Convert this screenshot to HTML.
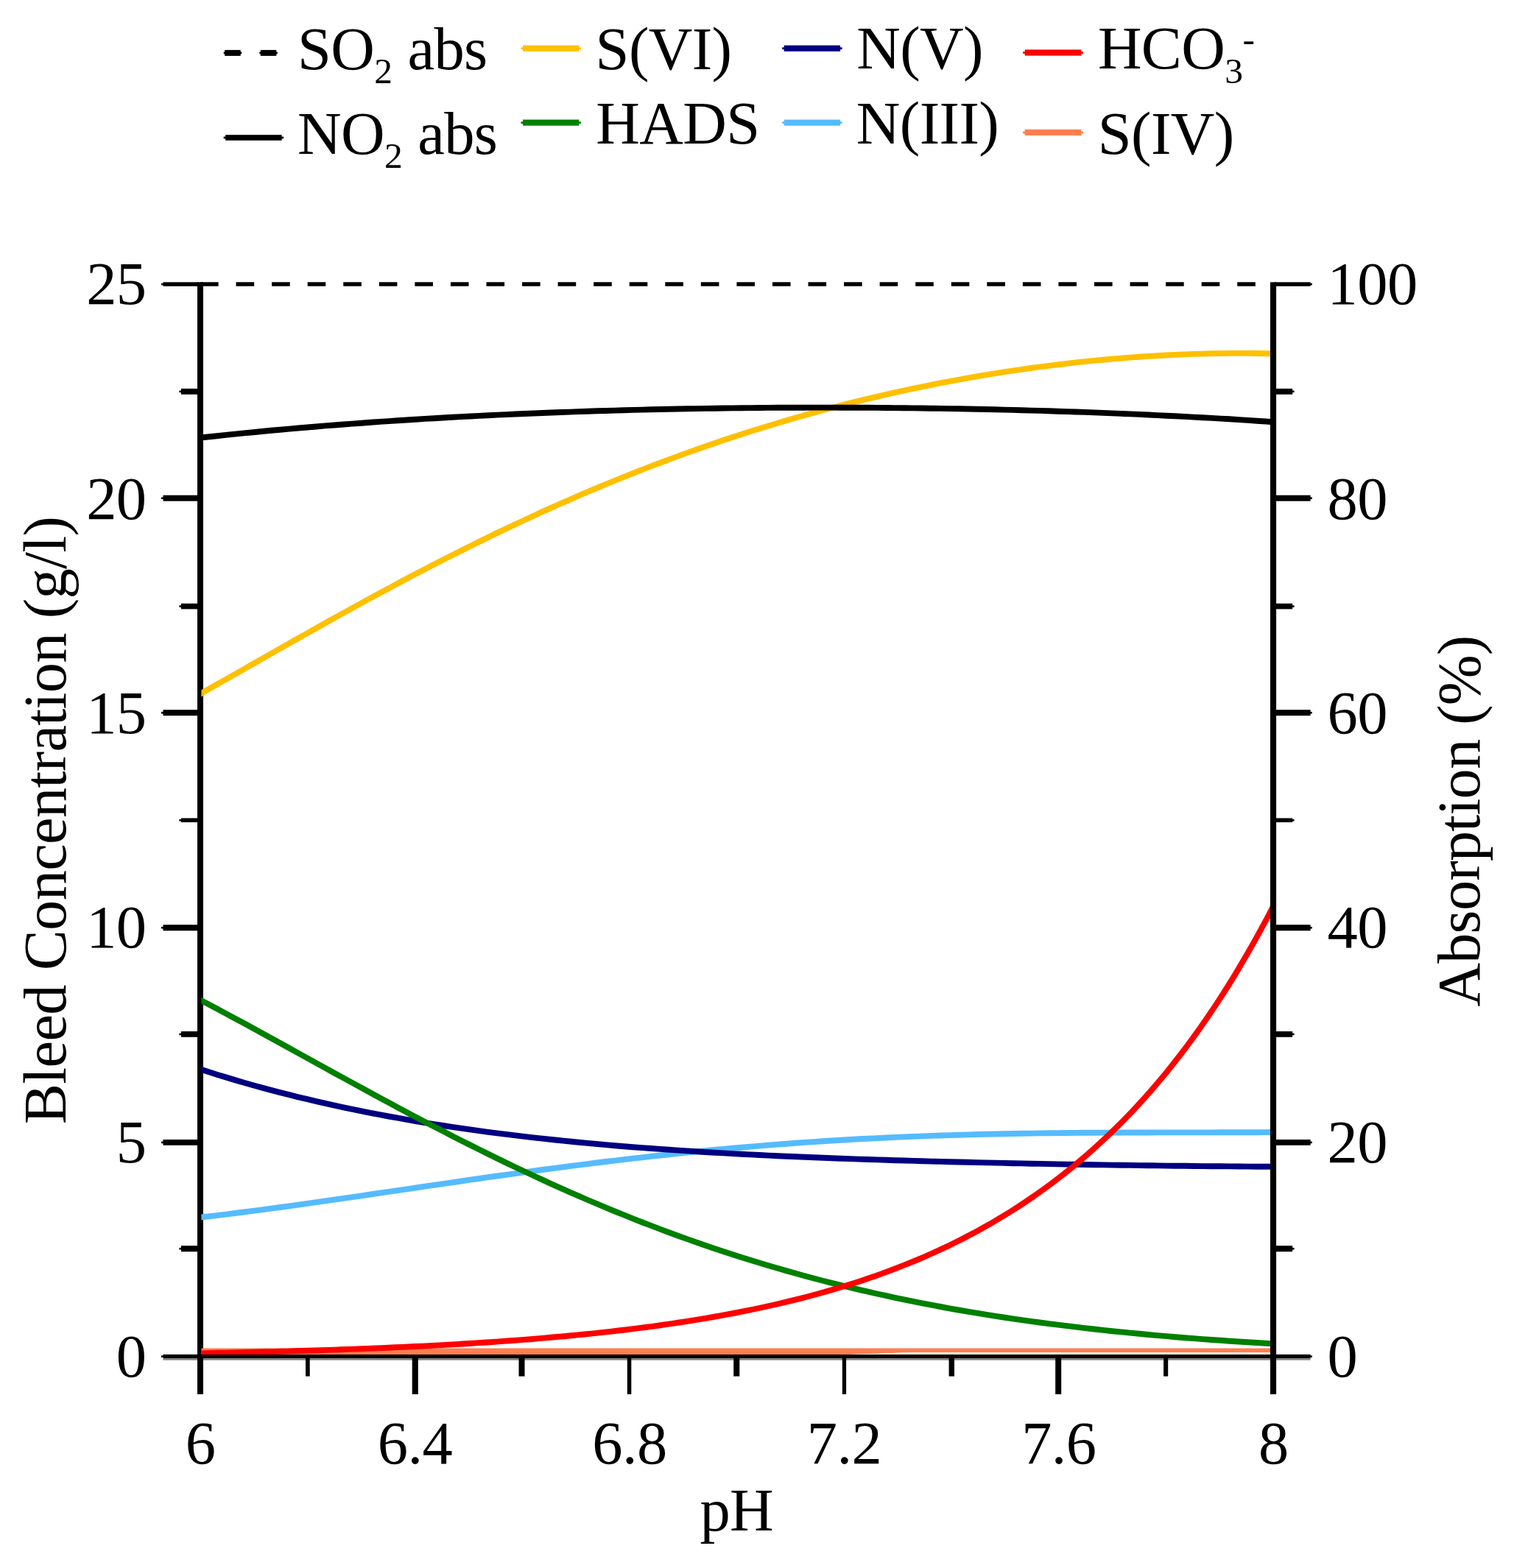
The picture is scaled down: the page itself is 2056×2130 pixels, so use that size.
<!DOCTYPE html>
<html lang="en"><head><meta charset="utf-8"><title>Bleed concentration and absorption vs pH</title>
<style>
html,body{margin:0;padding:0;background:#fff;}
body{width:2056px;height:2130px;overflow:hidden;}
svg{display:block;}
text{font-family:"Liberation Serif","DejaVu Serif",serif;font-size:82.5px;fill:#000;font-kerning:none;letter-spacing:-0.6px;}
.sub{font-size:49.5px;}
</style></head><body>
<svg xmlns="http://www.w3.org/2000/svg" width="2056" height="2130" viewBox="0 0 2056 2130">
<defs><clipPath id="plotclip"><rect x="273.4" y="380" width="1451.8" height="1460.1"/></clipPath></defs>
<rect width="2056" height="2130" fill="#fff"/>

<g id="axes-left-bottom">
<rect x="221.50" y="1839.90" width="1558.10" height="5.20" fill="#000"/>
<rect x="219.00" y="1841.30" width="1562.80" height="2.70" fill="#000"/>
<rect x="221.50" y="1845.10" width="1558.10" height="2.60" fill="#808080"/>
<rect x="268.00" y="383.30" width="8.00" height="1510.70" fill="#000"/>
<rect x="245.90" y="1692.20" width="24.10" height="8.10" fill="#000"/>
<rect x="243.40" y="1694.95" width="3.00" height="2.60" fill="#000"/>
<rect x="221.50" y="1548.00" width="48.50" height="7.80" fill="#000"/>
<rect x="219.00" y="1550.60" width="3.00" height="2.60" fill="#000"/>
<rect x="245.90" y="1401.00" width="24.10" height="7.80" fill="#000"/>
<rect x="243.40" y="1403.60" width="3.00" height="2.60" fill="#000"/>
<rect x="221.50" y="1256.20" width="48.50" height="8.10" fill="#000"/>
<rect x="219.00" y="1258.95" width="3.00" height="2.60" fill="#000"/>
<rect x="245.90" y="1111.40" width="24.10" height="5.60" fill="#000"/>
<rect x="243.40" y="1112.90" width="3.00" height="2.60" fill="#000"/>
<rect x="221.50" y="964.20" width="48.50" height="8.00" fill="#000"/>
<rect x="219.00" y="966.90" width="3.00" height="2.60" fill="#000"/>
<rect x="245.90" y="819.80" width="24.10" height="7.60" fill="#000"/>
<rect x="243.40" y="822.30" width="3.00" height="2.60" fill="#000"/>
<rect x="221.50" y="672.70" width="48.50" height="8.00" fill="#000"/>
<rect x="219.00" y="675.40" width="3.00" height="2.60" fill="#000"/>
<rect x="245.90" y="527.90" width="24.10" height="7.90" fill="#000"/>
<rect x="243.40" y="530.55" width="3.00" height="2.60" fill="#000"/>
<rect x="221.50" y="383.30" width="48.50" height="5.50" fill="#000"/>
<rect x="219.00" y="384.75" width="3.00" height="2.60" fill="#000"/>
<rect x="415.00" y="1843.00" width="5.70" height="26.60" fill="#000"/>
<rect x="559.70" y="1843.00" width="8.10" height="51.00" fill="#000"/>
<rect x="704.50" y="1843.00" width="8.00" height="26.60" fill="#000"/>
<rect x="851.80" y="1843.00" width="5.50" height="51.00" fill="#000"/>
<rect x="996.20" y="1843.00" width="8.10" height="26.60" fill="#000"/>
<rect x="1143.80" y="1843.00" width="5.30" height="51.00" fill="#000"/>
<rect x="1288.60" y="1843.00" width="7.40" height="26.60" fill="#000"/>
<rect x="1433.20" y="1843.00" width="8.00" height="51.00" fill="#000"/>
<rect x="1580.10" y="1843.00" width="6.10" height="26.60" fill="#000"/>
</g>
<g id="curves" fill="none" stroke-linejoin="round" clip-path="url(#plotclip)">
<path d="M270,1831.5 H1730 V1837.1 H1240 L1150,1840.1 H270 Z" fill="#FF7F50" stroke="none"/>
<path d="M1150,1840.1 L1240,1837.1 H1730 V1840.1 Z" fill="#FFEEE8" stroke="none"/>
<path d="M270.0,1653.9 L282.3,1652.5 L294.6,1651.1 L306.8,1649.6 L319.1,1648.0 L331.4,1646.5 L343.7,1644.9 L356.0,1643.3 L368.2,1641.6 L380.5,1640.0 L392.8,1638.3 L405.1,1636.6 L417.4,1634.9 L429.6,1633.1 L441.9,1631.4 L454.2,1629.6 L466.5,1627.9 L478.8,1626.1 L491.0,1624.3 L503.3,1622.5 L515.6,1620.7 L527.9,1618.9 L540.2,1617.1 L552.4,1615.3 L564.7,1613.5 L577.0,1611.7 L589.3,1609.9 L601.6,1608.1 L613.8,1606.3 L626.1,1604.5 L638.4,1602.7 L650.7,1601.0 L663.0,1599.2 L675.2,1597.5 L687.5,1595.8 L699.8,1594.1 L712.1,1592.4 L724.4,1590.7 L736.6,1589.0 L748.9,1587.4 L761.2,1585.8 L773.5,1584.2 L785.8,1582.6 L798.0,1581.1 L810.3,1579.5 L822.6,1578.0 L834.9,1576.6 L847.2,1575.1 L859.4,1573.7 L871.7,1572.3 L884.0,1570.9 L896.3,1569.5 L908.6,1568.2 L920.8,1566.9 L933.1,1565.6 L945.4,1564.4 L957.7,1563.2 L970.0,1562.0 L982.2,1560.9 L994.5,1559.8 L1006.8,1558.7 L1019.1,1557.6 L1031.3,1556.6 L1043.6,1555.6 L1055.9,1554.6 L1068.2,1553.7 L1080.5,1552.8 L1092.7,1551.9 L1105.0,1551.1 L1117.3,1550.3 L1129.6,1549.5 L1141.9,1548.7 L1154.1,1548.0 L1166.4,1547.3 L1178.7,1546.7 L1191.0,1546.1 L1203.3,1545.5 L1215.5,1544.9 L1227.8,1544.4 L1240.1,1543.9 L1252.4,1543.4 L1264.7,1542.9 L1276.9,1542.5 L1289.2,1542.1 L1301.5,1541.7 L1313.8,1541.4 L1326.1,1541.0 L1338.3,1540.7 L1350.6,1540.5 L1362.9,1540.2 L1375.2,1540.0 L1387.5,1539.8 L1399.7,1539.6 L1412.0,1539.4 L1424.3,1539.2 L1436.6,1539.1 L1448.9,1539.0 L1461.1,1538.9 L1473.4,1538.8 L1485.7,1538.7 L1498.0,1538.6 L1510.3,1538.6 L1522.5,1538.5 L1534.8,1538.5 L1547.1,1538.5 L1559.4,1538.5 L1571.7,1538.4 L1583.9,1538.4 L1596.2,1538.4 L1608.5,1538.4 L1620.8,1538.4 L1633.1,1538.4 L1645.3,1538.4 L1657.6,1538.3 L1669.9,1538.3 L1682.2,1538.3 L1694.5,1538.2 L1706.7,1538.2 L1719.0,1538.1 L1731.3,1538.0" stroke="#55BBFF" stroke-width="7.9"/>
<path d="M270.0,1451.8 L282.3,1455.8 L294.6,1459.7 L306.8,1463.4 L319.1,1467.1 L331.4,1470.7 L343.7,1474.2 L356.0,1477.6 L368.2,1480.9 L380.5,1484.1 L392.8,1487.2 L405.1,1490.3 L417.4,1493.2 L429.6,1496.1 L441.9,1498.9 L454.2,1501.7 L466.5,1504.3 L478.8,1506.9 L491.0,1509.4 L503.3,1511.8 L515.6,1514.2 L527.9,1516.5 L540.2,1518.7 L552.4,1520.9 L564.7,1523.0 L577.0,1525.1 L589.3,1527.1 L601.6,1529.0 L613.8,1530.8 L626.1,1532.7 L638.4,1534.4 L650.7,1536.1 L663.0,1537.8 L675.2,1539.4 L687.5,1540.9 L699.8,1542.4 L712.1,1543.9 L724.4,1545.3 L736.6,1546.7 L748.9,1548.0 L761.2,1549.3 L773.5,1550.5 L785.8,1551.7 L798.0,1552.9 L810.3,1554.0 L822.6,1555.1 L834.9,1556.2 L847.2,1557.2 L859.4,1558.2 L871.7,1559.1 L884.0,1560.0 L896.3,1560.9 L908.6,1561.8 L920.8,1562.6 L933.1,1563.4 L945.4,1564.2 L957.7,1565.0 L970.0,1565.7 L982.2,1566.4 L994.5,1567.1 L1006.8,1567.7 L1019.1,1568.4 L1031.3,1569.0 L1043.6,1569.6 L1055.9,1570.2 L1068.2,1570.7 L1080.5,1571.2 L1092.7,1571.8 L1105.0,1572.3 L1117.3,1572.8 L1129.6,1573.2 L1141.9,1573.7 L1154.1,1574.1 L1166.4,1574.6 L1178.7,1575.0 L1191.0,1575.4 L1203.3,1575.8 L1215.5,1576.2 L1227.8,1576.5 L1240.1,1576.9 L1252.4,1577.2 L1264.7,1577.6 L1276.9,1577.9 L1289.2,1578.2 L1301.5,1578.5 L1313.8,1578.8 L1326.1,1579.1 L1338.3,1579.4 L1350.6,1579.6 L1362.9,1579.9 L1375.2,1580.2 L1387.5,1580.4 L1399.7,1580.7 L1412.0,1580.9 L1424.3,1581.1 L1436.6,1581.4 L1448.9,1581.6 L1461.1,1581.8 L1473.4,1582.0 L1485.7,1582.2 L1498.0,1582.4 L1510.3,1582.6 L1522.5,1582.8 L1534.8,1582.9 L1547.1,1583.1 L1559.4,1583.3 L1571.7,1583.4 L1583.9,1583.6 L1596.2,1583.7 L1608.5,1583.8 L1620.8,1584.0 L1633.1,1584.1 L1645.3,1584.2 L1657.6,1584.3 L1669.9,1584.4 L1682.2,1584.5 L1694.5,1584.6 L1706.7,1584.7 L1719.0,1584.7 L1731.3,1584.8" stroke="#000080" stroke-width="7.9"/>
<path d="M270.0,943.8 L282.3,936.8 L294.6,929.8 L306.8,922.9 L319.1,915.9 L331.4,908.8 L343.7,901.8 L356.0,894.9 L368.2,887.9 L380.5,880.9 L392.8,873.9 L405.1,867.0 L417.4,860.1 L429.6,853.2 L441.9,846.3 L454.2,839.4 L466.5,832.6 L478.8,825.9 L491.0,819.1 L503.3,812.4 L515.6,805.8 L527.9,799.2 L540.2,792.6 L552.4,786.1 L564.7,779.6 L577.0,773.2 L589.3,766.8 L601.6,760.5 L613.8,754.3 L626.1,748.1 L638.4,742.0 L650.7,735.9 L663.0,729.9 L675.2,723.9 L687.5,718.1 L699.8,712.2 L712.1,706.5 L724.4,700.8 L736.6,695.2 L748.9,689.7 L761.2,684.2 L773.5,678.8 L785.8,673.4 L798.0,668.2 L810.3,663.0 L822.6,657.9 L834.9,652.8 L847.2,647.9 L859.4,643.0 L871.7,638.1 L884.0,633.4 L896.3,628.7 L908.6,624.1 L920.8,619.6 L933.1,615.1 L945.4,610.8 L957.7,606.5 L970.0,602.2 L982.2,598.1 L994.5,594.0 L1006.8,590.0 L1019.1,586.1 L1031.3,582.2 L1043.6,578.4 L1055.9,574.7 L1068.2,571.1 L1080.5,567.5 L1092.7,564.1 L1105.0,560.6 L1117.3,557.3 L1129.6,554.0 L1141.9,550.8 L1154.1,547.7 L1166.4,544.7 L1178.7,541.7 L1191.0,538.8 L1203.3,535.9 L1215.5,533.2 L1227.8,530.5 L1240.1,527.9 L1252.4,525.3 L1264.7,522.8 L1276.9,520.4 L1289.2,518.1 L1301.5,515.8 L1313.8,513.6 L1326.1,511.4 L1338.3,509.4 L1350.6,507.4 L1362.9,505.4 L1375.2,503.6 L1387.5,501.8 L1399.7,500.0 L1412.0,498.4 L1424.3,496.8 L1436.6,495.3 L1448.9,493.8 L1461.1,492.4 L1473.4,491.1 L1485.7,489.9 L1498.0,488.7 L1510.3,487.6 L1522.5,486.6 L1534.8,485.6 L1547.1,484.7 L1559.4,483.9 L1571.7,483.2 L1583.9,482.5 L1596.2,481.9 L1608.5,481.4 L1620.8,480.9 L1633.1,480.6 L1645.3,480.3 L1657.6,480.1 L1669.9,479.9 L1682.2,479.9 L1694.5,479.9 L1706.7,480.0 L1719.0,480.2 L1731.3,480.5" stroke="#FFC000" stroke-width="7.9"/>
<path d="M270.0,1357.3 L282.3,1363.8 L294.6,1370.3 L306.8,1376.9 L319.1,1383.5 L331.4,1390.1 L343.7,1396.8 L356.0,1403.5 L368.2,1410.3 L380.5,1417.0 L392.8,1423.8 L405.1,1430.6 L417.4,1437.4 L429.6,1444.1 L441.9,1450.9 L454.2,1457.7 L466.5,1464.4 L478.8,1471.1 L491.0,1477.8 L503.3,1484.5 L515.6,1491.2 L527.9,1497.8 L540.2,1504.4 L552.4,1510.9 L564.7,1517.4 L577.0,1523.9 L589.3,1530.3 L601.6,1536.6 L613.8,1542.9 L626.1,1549.2 L638.4,1555.4 L650.7,1561.5 L663.0,1567.6 L675.2,1573.6 L687.5,1579.6 L699.8,1585.5 L712.1,1591.3 L724.4,1597.0 L736.6,1602.7 L748.9,1608.3 L761.2,1613.9 L773.5,1619.3 L785.8,1624.7 L798.0,1630.0 L810.3,1635.2 L822.6,1640.4 L834.9,1645.5 L847.2,1650.4 L859.4,1655.4 L871.7,1660.2 L884.0,1664.9 L896.3,1669.6 L908.6,1674.2 L920.8,1678.7 L933.1,1683.1 L945.4,1687.4 L957.7,1691.7 L970.0,1695.9 L982.2,1700.0 L994.5,1704.0 L1006.8,1707.9 L1019.1,1711.8 L1031.3,1715.5 L1043.6,1719.2 L1055.9,1722.8 L1068.2,1726.4 L1080.5,1729.8 L1092.7,1733.2 L1105.0,1736.5 L1117.3,1739.7 L1129.6,1742.9 L1141.9,1745.9 L1154.1,1748.9 L1166.4,1751.9 L1178.7,1754.7 L1191.0,1757.5 L1203.3,1760.2 L1215.5,1762.8 L1227.8,1765.4 L1240.1,1767.9 L1252.4,1770.4 L1264.7,1772.7 L1276.9,1775.0 L1289.2,1777.3 L1301.5,1779.5 L1313.8,1781.6 L1326.1,1783.6 L1338.3,1785.6 L1350.6,1787.6 L1362.9,1789.5 L1375.2,1791.3 L1387.5,1793.1 L1399.7,1794.8 L1412.0,1796.5 L1424.3,1798.1 L1436.6,1799.7 L1448.9,1801.2 L1461.1,1802.7 L1473.4,1804.1 L1485.7,1805.5 L1498.0,1806.9 L1510.3,1808.2 L1522.5,1809.4 L1534.8,1810.6 L1547.1,1811.8 L1559.4,1813.0 L1571.7,1814.1 L1583.9,1815.1 L1596.2,1816.2 L1608.5,1817.2 L1620.8,1818.1 L1633.1,1819.1 L1645.3,1820.0 L1657.6,1820.8 L1669.9,1821.7 L1682.2,1822.5 L1694.5,1823.3 L1706.7,1824.0 L1719.0,1824.7 L1731.3,1825.4" stroke="#008000" stroke-width="7.9"/>
<path d="M270.0,1838.4 L279.2,1838.2 L288.4,1838.0 L297.6,1837.8 L306.8,1837.6 L316.0,1837.4 L325.1,1837.2 L334.3,1837.0 L343.5,1836.8 L352.7,1836.5 L361.9,1836.3 L371.1,1836.1 L380.3,1835.8 L389.5,1835.6 L398.7,1835.3 L407.9,1835.0 L417.0,1834.8 L426.2,1834.5 L435.4,1834.2 L444.6,1833.9 L453.8,1833.6 L463.0,1833.2 L472.2,1832.9 L481.4,1832.6 L490.6,1832.2 L499.8,1831.9 L509.0,1831.5 L518.1,1831.1 L527.3,1830.7 L536.5,1830.3 L545.7,1829.9 L554.9,1829.5 L564.1,1829.0 L573.3,1828.6 L582.5,1828.1 L591.7,1827.6 L600.9,1827.1 L610.1,1826.6 L619.2,1826.1 L628.4,1825.5 L637.6,1825.0 L646.8,1824.4 L656.0,1823.8 L665.2,1823.2 L674.4,1822.6 L683.6,1821.9 L692.8,1821.3 L702.0,1820.6 L711.1,1819.9 L720.3,1819.2 L729.5,1818.4 L738.7,1817.6 L747.9,1816.8 L757.1,1816.0 L766.3,1815.2 L775.5,1814.3 L784.7,1813.4 L793.9,1812.5 L803.1,1811.6 L812.2,1810.6 L821.4,1809.6 L830.6,1808.6 L839.8,1807.5 L849.0,1806.5 L858.2,1805.3 L867.4,1804.2 L876.6,1803.0 L885.8,1801.8 L895.0,1800.5 L904.1,1799.2 L913.3,1797.9 L922.5,1796.5 L931.7,1795.1 L940.9,1793.6 L950.1,1792.2 L959.3,1790.6 L968.5,1789.0 L977.7,1787.4 L986.9,1785.7 L996.1,1784.0 L1005.2,1782.2 L1014.4,1780.4 L1023.6,1778.5 L1032.8,1776.5 L1042.0,1774.5 L1051.2,1772.5 L1060.4,1770.3 L1069.6,1768.2 L1078.8,1765.9 L1088.0,1763.6 L1097.2,1761.2 L1106.3,1758.8 L1115.5,1756.2 L1124.7,1753.6 L1133.9,1751.0 L1143.1,1748.2 L1152.3,1745.4 L1161.5,1742.4 L1170.7,1739.4 L1179.9,1736.3 L1189.1,1733.2 L1198.2,1729.9 L1207.4,1726.5 L1216.6,1723.0 L1225.8,1719.4 L1235.0,1715.8 L1244.2,1712.0 L1253.4,1708.1 L1262.6,1704.0 L1271.8,1699.9 L1281.0,1695.6 L1290.2,1691.3 L1299.3,1686.7 L1308.5,1682.1 L1317.7,1677.3 L1326.9,1672.4 L1336.1,1667.3 L1345.3,1662.1 L1354.5,1656.7 L1363.7,1651.2 L1372.9,1645.5 L1382.1,1639.6 L1391.2,1633.6 L1400.4,1627.4 L1409.6,1621.0 L1418.8,1614.4 L1428.0,1607.6 L1437.2,1600.6 L1446.4,1593.4 L1455.6,1586.1 L1464.8,1578.4 L1474.0,1570.6 L1483.2,1562.5 L1492.3,1554.2 L1501.5,1545.7 L1510.7,1536.9 L1519.9,1527.8 L1529.1,1518.5 L1538.3,1508.9 L1547.5,1499.0 L1556.7,1488.8 L1565.9,1478.3 L1575.1,1467.5 L1584.3,1456.4 L1593.4,1445.0 L1602.6,1433.2 L1611.8,1421.1 L1621.0,1408.6 L1630.2,1395.8 L1639.4,1382.5 L1648.6,1368.9 L1657.8,1354.9 L1667.0,1340.5 L1676.2,1325.6 L1685.3,1310.3 L1694.5,1294.6 L1703.7,1278.4 L1712.9,1261.7 L1722.1,1244.5 L1731.3,1226.9" stroke="#FF0000" stroke-width="7.9"/>
<path d="M270.0,594.9 L282.3,593.5 L294.6,592.2 L306.8,590.9 L319.1,589.6 L331.4,588.4 L343.7,587.2 L356.0,586.0 L368.2,584.8 L380.5,583.7 L392.8,582.6 L405.1,581.5 L417.4,580.5 L429.6,579.5 L441.9,578.4 L454.2,577.5 L466.5,576.5 L478.8,575.6 L491.0,574.7 L503.3,573.8 L515.6,572.9 L527.9,572.1 L540.2,571.3 L552.4,570.5 L564.7,569.7 L577.0,568.9 L589.3,568.2 L601.6,567.5 L613.8,566.8 L626.1,566.1 L638.4,565.5 L650.7,564.9 L663.0,564.2 L675.2,563.6 L687.5,563.1 L699.8,562.5 L712.1,562.0 L724.4,561.5 L736.6,561.0 L748.9,560.5 L761.2,560.0 L773.5,559.6 L785.8,559.1 L798.0,558.7 L810.3,558.3 L822.6,558.0 L834.9,557.6 L847.2,557.3 L859.4,556.9 L871.7,556.6 L884.0,556.3 L896.3,556.0 L908.6,555.8 L920.8,555.5 L933.1,555.3 L945.4,555.1 L957.7,554.9 L970.0,554.7 L982.2,554.5 L994.5,554.4 L1006.8,554.2 L1019.1,554.1 L1031.3,554.0 L1043.6,553.9 L1055.9,553.8 L1068.2,553.7 L1080.5,553.7 L1092.7,553.7 L1105.0,553.6 L1117.3,553.6 L1129.6,553.6 L1141.9,553.7 L1154.1,553.7 L1166.4,553.7 L1178.7,553.8 L1191.0,553.9 L1203.3,554.0 L1215.5,554.1 L1227.8,554.2 L1240.1,554.4 L1252.4,554.5 L1264.7,554.7 L1276.9,554.9 L1289.2,555.1 L1301.5,555.3 L1313.8,555.5 L1326.1,555.8 L1338.3,556.0 L1350.6,556.3 L1362.9,556.6 L1375.2,556.9 L1387.5,557.2 L1399.7,557.6 L1412.0,557.9 L1424.3,558.3 L1436.6,558.7 L1448.9,559.1 L1461.1,559.5 L1473.4,559.9 L1485.7,560.4 L1498.0,560.9 L1510.3,561.4 L1522.5,561.9 L1534.8,562.4 L1547.1,562.9 L1559.4,563.5 L1571.7,564.1 L1583.9,564.7 L1596.2,565.3 L1608.5,565.9 L1620.8,566.6 L1633.1,567.2 L1645.3,567.9 L1657.6,568.6 L1669.9,569.3 L1682.2,570.1 L1694.5,570.9 L1706.7,571.7 L1719.0,572.5 L1731.3,573.3" stroke="#000000" stroke-width="7.9"/>
</g>
<path d="M272,386.05 H1725" stroke="#000" stroke-width="5.5" stroke-dasharray="24.6 23.96" fill="none"/>
<g id="axis-right">
<rect x="1725.00" y="383.30" width="8.10" height="1510.70" fill="#000"/>
<rect x="1731.00" y="1692.20" width="24.20" height="8.10" fill="#000"/>
<rect x="1755.00" y="1694.95" width="2.60" height="2.60" fill="#000"/>
<rect x="1731.00" y="1548.00" width="48.60" height="7.80" fill="#000"/>
<rect x="1779.00" y="1550.60" width="2.80" height="2.60" fill="#000"/>
<rect x="1731.00" y="1401.00" width="24.20" height="7.80" fill="#000"/>
<rect x="1755.00" y="1403.60" width="2.60" height="2.60" fill="#000"/>
<rect x="1731.00" y="1256.20" width="48.60" height="8.10" fill="#000"/>
<rect x="1779.00" y="1258.95" width="2.80" height="2.60" fill="#000"/>
<rect x="1731.00" y="1111.40" width="24.20" height="5.60" fill="#000"/>
<rect x="1755.00" y="1112.90" width="2.60" height="2.60" fill="#000"/>
<rect x="1731.00" y="964.20" width="48.60" height="8.00" fill="#000"/>
<rect x="1779.00" y="966.90" width="2.80" height="2.60" fill="#000"/>
<rect x="1731.00" y="819.80" width="24.20" height="7.60" fill="#000"/>
<rect x="1755.00" y="822.30" width="2.60" height="2.60" fill="#000"/>
<rect x="1731.00" y="672.70" width="48.60" height="8.00" fill="#000"/>
<rect x="1779.00" y="675.40" width="2.80" height="2.60" fill="#000"/>
<rect x="1731.00" y="527.90" width="24.20" height="7.90" fill="#000"/>
<rect x="1755.00" y="530.55" width="2.60" height="2.60" fill="#000"/>
<rect x="1731.00" y="383.30" width="48.60" height="5.50" fill="#000"/>
<rect x="1779.00" y="384.75" width="2.80" height="2.60" fill="#000"/>
</g>
<g id="ticklabels">
<text x="198.5" y="1870.1" text-anchor="end">0</text>
<text x="198.5" y="1578.7" text-anchor="end">5</text>
<text x="198.5" y="1287.3" text-anchor="end">10</text>
<text x="198.5" y="995.9" text-anchor="end">15</text>
<text x="198.5" y="704.5" text-anchor="end">20</text>
<text x="198.5" y="413.1" text-anchor="end">25</text>
<text x="1802.6" y="1870.1" text-anchor="start">0</text>
<text x="1802.6" y="1578.7" text-anchor="start">20</text>
<text x="1802.6" y="1287.3" text-anchor="start">40</text>
<text x="1802.6" y="995.9" text-anchor="start">60</text>
<text x="1802.6" y="704.5" text-anchor="start">80</text>
<text x="1802.6" y="413.1" text-anchor="start">100</text>
<text x="272.0" y="1988.3" text-anchor="middle">6</text>
<text x="563.5" y="1988.3" text-anchor="middle">6.4</text>
<text x="854.9" y="1988.3" text-anchor="middle">6.8</text>
<text x="1146.4" y="1988.3" text-anchor="middle">7.2</text>
<text x="1437.8" y="1988.3" text-anchor="middle">7.6</text>
<text x="1729.3" y="1988.3" text-anchor="middle">8</text>
</g>
<g id="titles">
<text x="1000.2" y="2079" text-anchor="middle">pH</text>
<text transform="translate(89.3 1114.4) rotate(-90)" text-anchor="middle" style="letter-spacing:-0.72px">Bleed Concentration (g/l)</text>
<text transform="translate(2008.6 1115.6) rotate(-90)" text-anchor="middle" style="letter-spacing:-0.83px">Absorption (%)</text>
</g>
<g id="legend">
<rect x="305.20" y="67.90" width="21.50" height="8.00" fill="#000"/>
<rect x="303.70" y="70.50" width="24.50" height="2.80" fill="#000"/>
<rect x="353.80" y="67.90" width="21.50" height="8.00" fill="#000"/>
<rect x="352.30" y="70.50" width="24.50" height="2.80" fill="#000"/>
<rect x="306.20" y="183.20" width="76.40" height="7.60" fill="#000"/>
<rect x="303.70" y="185.60" width="81.40" height="2.80" fill="#000"/>
<text x="404.0" y="93.6">SO<tspan class="sub" dy="19.6">2</tspan><tspan dy="-19.6" dx="1"> abs</tspan></text>
<text x="404.0" y="208.6">NO<tspan class="sub" dy="19.6">2</tspan><tspan dy="-19.6" dx="1"> abs</tspan></text>
<rect x="710.00" y="61.60" width="76.40" height="8.20" fill="#FFC000"/>
<rect x="707.50" y="64.30" width="81.40" height="2.80" fill="#FFC000"/>
<rect x="710.00" y="162.50" width="76.40" height="8.20" fill="#008000"/>
<rect x="707.50" y="165.20" width="81.40" height="2.80" fill="#008000"/>
<text x="808.6" y="93.9">S(VI)</text>
<text x="809.3" y="195.4">HADS</text>
<rect x="1064.70" y="61.60" width="76.40" height="8.20" fill="#000080"/>
<rect x="1062.20" y="64.30" width="81.40" height="2.80" fill="#000080"/>
<rect x="1064.70" y="162.50" width="76.40" height="8.20" fill="#55BBFF"/>
<rect x="1062.20" y="165.20" width="81.40" height="2.80" fill="#55BBFF"/>
<text x="1163.2" y="93.4">N(V)</text>
<text x="1162.8" y="195.4">N(III)</text>
<rect x="1391.70" y="67.40" width="76.80" height="8.20" fill="#FF0000"/>
<rect x="1389.20" y="70.10" width="81.80" height="2.80" fill="#FF0000"/>
<rect x="1391.70" y="175.80" width="76.80" height="8.20" fill="#FF7F50"/>
<rect x="1389.20" y="178.50" width="81.80" height="2.80" fill="#FF7F50"/>
<text x="1490.9" y="93.4">HCO<tspan class="sub" dy="20">3</tspan><tspan class="sub" dy="-43.4">-</tspan></text>
<text x="1490.8" y="208.5">S(IV)</text>
</g>
</svg>
</body></html>
